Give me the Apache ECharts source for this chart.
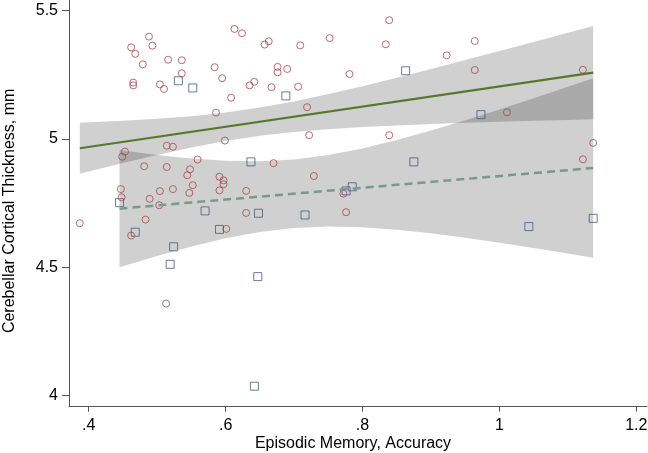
<!DOCTYPE html>
<html>
<head>
<meta charset="utf-8">
<script src="https://cdn.jsdelivr.net/npm/echarts@6/dist/echarts.min.js"></script>
<style>
html,body{margin:0;padding:0;background:#fff;}
#chart{width:648px;height:453px;}
</style>
</head>
<body>
<div id="chart"></div>
<script>
// ---- data ----
const circleX = [0.462,0.468,0.488,0.493,0.479,0.516,0.536,0.536,0.465,0.465,0.504,0.510,0.613,0.624,0.657,0.663,0.709,0.752,0.584,0.595,0.676,0.676,0.690,0.635,0.642,0.667,0.706,0.781,0.608,0.586,0.719,0.722,0.599,0.514,0.523,0.453,0.449,0.481,0.514,0.559,0.548,0.544,0.591,0.597,0.597,0.591,0.552,0.547,0.523,0.504,0.447,0.448,0.489,0.503,0.630,0.670,0.729,0.630,0.776,0.772,0.483,0.601,0.462,0.387,0.513,0.839,0.834,0.964,0.923,0.964,1.122,1.011,0.839,1.137,1.122];
const circleY = [5.357,5.332,5.399,5.364,5.291,5.309,5.307,5.256,5.220,5.209,5.213,5.195,5.429,5.412,5.368,5.381,5.365,5.393,5.280,5.237,5.281,5.260,5.273,5.209,5.223,5.202,5.204,5.253,5.161,5.103,5.124,5.015,4.994,4.974,4.970,4.951,4.931,4.894,4.891,4.920,4.882,4.859,4.853,4.839,4.824,4.800,4.820,4.790,4.805,4.797,4.805,4.773,4.767,4.742,4.798,4.906,4.856,4.712,4.715,4.787,4.686,4.650,4.624,4.672,4.359,5.463,5.369,5.382,5.326,5.269,5.270,5.104,5.015,4.985,4.921];
const squareX = [0.531,0.552,0.688,0.637,0.445,0.570,0.648,0.716,0.776,0.785,0.468,0.524,0.519,0.591,0.647,0.642,0.863,0.973,0.875,1.043,1.137];
const squareY = [5.227,5.199,5.168,4.911,4.752,4.720,4.711,4.704,4.798,4.814,4.637,4.580,4.512,4.648,4.464,4.037,5.266,5.095,4.911,4.659,4.691];

// fitted lines (end points)
const solidFitX = [0.387, 1.137];
const solidFitY = [4.964, 5.2585];
const dashFitX = [0.445, 1.137];
const dashFitY = [4.7287, 4.8872];

// confidence bands (edges read at sample x positions)
const solidBandX = [0.387,0.45,0.5,0.55,0.6,0.65,0.7,0.75,0.8,0.85,0.9,0.95,1.0,1.05,1.1,1.137];
const solidBandUp = [5.0634,5.0711,5.0789,5.0892,5.1033,5.1225,5.1467,5.1751,5.2061,5.2390,5.2729,5.3076,5.3427,5.3782,5.4139,5.4404];
const solidBandLo = [4.8646,4.9065,4.9379,4.9670,4.9921,5.0123,5.0273,5.0384,5.0465,5.0530,5.0583,5.0630,5.0671,5.0710,5.0745,5.0770];
const dashBandX = [0.445,0.5,0.55,0.6,0.65,0.7,0.75,0.8,0.85,0.9,0.95,1.0,1.05,1.1,1.137];
const dashBandUp = [4.9568,4.9380,4.9243,4.9154,4.9135,4.9205,4.9376,4.9635,4.9960,5.0332,5.0733,5.1155,5.1591,5.2037,5.2372];
const dashBandLo = [4.5006,4.5446,4.5813,4.6130,4.6379,4.6537,4.6595,4.6565,4.6468,4.6326,4.6153,4.5960,4.5753,4.5537,4.5372];

// ticks
const xTickVals = [0.4, 0.6, 0.8, 1.0, 1.2];
const xTickLabels = ['.4', '.6', '.8', '1', '1.2'];
const yTickVals = [4, 4.5, 5, 5.5];
const yTickLabels = ['4', '4.5', '5', '5.5'];

const xTitle = 'Episodic Memory, Accuracy';
const yTitle = 'Cerebellar Cortical Thickness, mm';

// ---- chart ----
const zip = (a, b) => a.map((v, i) => [v, b[i]]);
const labelFor = (vals, labels) => (v) => {
  for (let i = 0; i < vals.length; i++) if (Math.abs(vals[i] - v) < 1e-9) return labels[i];
  return '';
};

function bandSeries(bx, up, lo) {
  return {
    type: 'custom',
    silent: true,
    z: 1,
    data: [[bx[0], up[0]]],
    renderItem: function (params, api) {
      const pts = [];
      for (let i = 0; i < bx.length; i++) pts.push(api.coord([bx[i], up[i]]));
      for (let i = bx.length - 1; i >= 0; i--) pts.push(api.coord([bx[i], lo[i]]));
      return { type: 'polygon', shape: { points: pts }, style: { fill: 'rgba(0,0,0,0.185)', stroke: null } };
    }
  };
}

const font = 'Liberation Sans, Arial, Helvetica, sans-serif';
const chart = echarts.init(document.getElementById('chart'), null, { renderer: 'canvas' });
chart.setOption({
  animation: false,
  backgroundColor: '#fff',
  grid: { left: 69, right: 1, top: 0, bottom: 46.3, containLabel: false, outerBoundsMode: 'none' },
  xAxis: {
    type: 'value', min: 0.3712, max: 1.2156,
    name: xTitle, nameLocation: 'middle', nameGap: 29, nameMoveOverlap: false,
    nameTextStyle: { fontFamily: font, fontSize: 16, color: '#000', padding: [0, 10, 0, 0] },
    axisLine: { show: true, onZero: false, lineStyle: { color: '#555', width: 1 } },
    axisTick: { show: true, length: 5, customValues: xTickVals, lineStyle: { color: '#555' } },
    axisLabel: { customValues: xTickVals, formatter: labelFor(xTickVals, xTickLabels), fontFamily: font, fontSize: 16, color: '#000', margin: 11 },
    splitLine: { show: false }
  },
  yAxis: {
    type: 'value', min: 3.9571, max: 5.5417,
    name: yTitle, nameLocation: 'middle', nameGap: 51,
    nameTextStyle: { fontFamily: font, fontSize: 16, color: '#000', padding: [0, 15, 0, 0] },
    axisLine: { show: true, onZero: false, lineStyle: { color: '#555', width: 1 } },
    axisTick: { show: true, length: 7, customValues: yTickVals, lineStyle: { color: '#555' } },
    axisLabel: { customValues: yTickVals, formatter: labelFor(yTickVals, yTickLabels), fontFamily: font, fontSize: 16, color: '#000', margin: 11 },
    splitLine: { show: false }
  },
  series: [
    bandSeries(solidBandX, solidBandUp, solidBandLo),
    bandSeries(dashBandX, dashBandUp, dashBandLo),
    {
      type: 'scatter', z: 3, symbol: 'circle', symbolSize: 7,
      data: zip(circleX, circleY),
      itemStyle: { color: 'rgba(0,0,0,0)', borderColor: '#a5484b', borderWidth: 1 }
    },
    {
      type: 'scatter', z: 3, symbol: 'rect', symbolSize: 8,
      data: zip(squareX, squareY),
      itemStyle: { color: 'rgba(0,0,0,0)', borderColor: '#4a587e', borderWidth: 1 }
    },
    {
      type: 'line', z: 4, symbol: 'none', data: zip(solidFitX, solidFitY),
      lineStyle: { color: '#56782c', width: 2.2, type: 'solid' }
    },
    {
      type: 'line', z: 4, symbol: 'none', data: zip(dashFitX, dashFitY),
      lineStyle: { color: '#789a88', width: 2.5, type: [8, 5] }
    }
  ]
});
</script>
</body>
</html>
